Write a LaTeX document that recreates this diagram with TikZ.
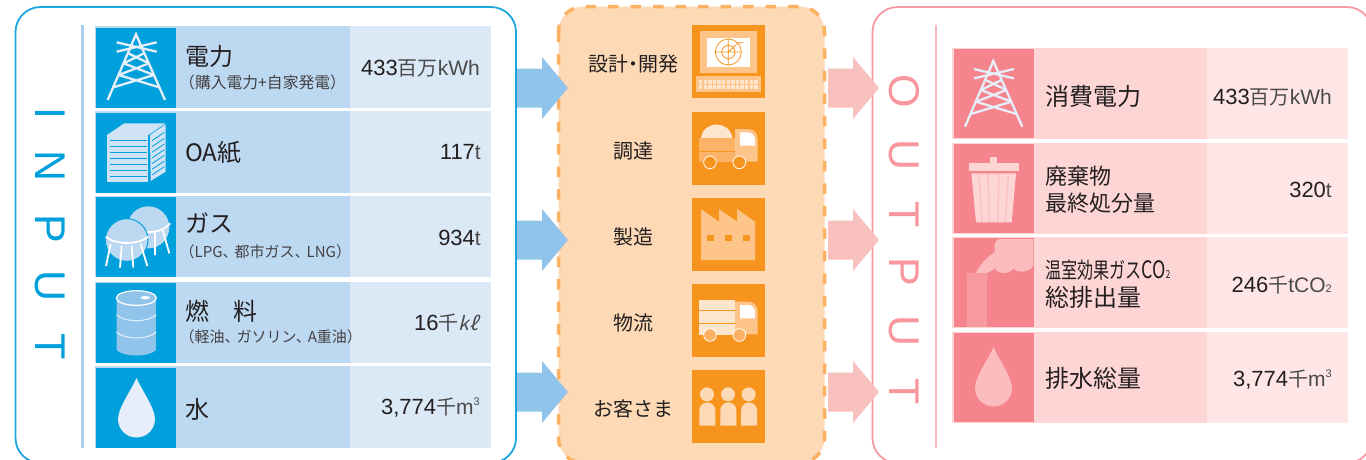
\documentclass[tikz,border=0pt]{standalone}
\usepackage{fontspec}
\setmainfont{Liberation Sans}
\newfontfamily\jp{Noto Sans CJK JP}
\newfontfamily\jpslant[FakeSlant=0.25]{Noto Sans CJK JP}
\definecolor{inkc}{HTML}{231F20}
\definecolor{unitc}{HTML}{4A4A4A}
\definecolor{bluemain}{HTML}{00A0DC}
\definecolor{bluepanel}{HTML}{1BA6DD}
\definecolor{bluebar}{HTML}{A9CDEC}
\definecolor{bluelabel}{HTML}{BDD8F1}
\definecolor{blueval}{HTML}{DBE8F6}
\definecolor{bluearrow}{HTML}{90C4EA}
\definecolor{bluelight}{HTML}{D0E3F6}
\definecolor{iconwhite}{HTML}{E6EFF9}
\definecolor{pinkmain}{HTML}{F6848C}
\definecolor{pinkpanel}{HTML}{F59AA2}
\definecolor{pinkbar}{HTML}{FBB8BC}
\definecolor{pinklabel}{HTML}{FDD5D5}
\definecolor{pinkval}{HTML}{FEE6E6}
\definecolor{pinkarrow}{HTML}{F9C0C0}
\definecolor{pinksoft}{HTML}{FBBCBD}
\definecolor{orangemain}{HTML}{F7941D}
\definecolor{orangebg}{HTML}{FDD9B5}
\definecolor{orangedash}{HTML}{FDB163}
\definecolor{orangemid}{HTML}{FDC58A}
\definecolor{orangelight}{HTML}{FEE5CD}
\newcommand{\unitjp}[1]{{\jp\fontsize{20}{20}\selectfont\color{unitc}#1}}
\newcommand{\unitla}[1]{{\fontsize{21}{21}\selectfont\color{unitc}#1}}
\newcommand{\kten}{、\hspace{-3pt}}
\tikzset{
  x=1pt,y=-1pt,
  lab/.style={anchor=base west,inner sep=0pt,text=inkc,font=\jp\fontsize{24}{24}\selectfont},
  labm/.style={anchor=base west,inner sep=0pt,text=inkc,font=\jp\fontsize{22}{22}\selectfont},
  subl/.style={anchor=base west,inner sep=0pt,text=inkc!85,font=\jp\fontsize{15}{15}\selectfont},
  val/.style={anchor=base east,inner sep=0pt,text=inkc,font=\fontsize{22}{22}\selectfont},
  proc/.style={anchor=base,inner sep=0pt,text=inkc,font=\jp\fontsize{20}{20}\selectfont},
  letterin/.style={rotate=-90,inner sep=0pt,text=bluemain,font=\fontsize{43}{43}\selectfont},
  letterout/.style={rotate=-90,inner sep=0pt,text=pinkmain!85!white,font=\fontsize{43}{43}\selectfont},
  zoomed/.style={scale=0.33333},
  towerline/.style={draw=iconwhite,line width=2.3pt},
}
\newcommand{\arrowshape}[3]{% x, tip y, colour
  \fill[#3] (#1,#2-19.5) -- (#1+25,#2-19.5) -- (#1+25,#2-31) -- (#1+51,#2) -- (#1+25,#2+31) -- (#1+25,#2+19.5) -- (#1,#2+19.5) -- cycle;}
\newcommand{\towericon}[2]{% shift of the zoom-coordinates origin
  \begin{scope}[shift={(#1,#2)},zoomed]
    \draw[towerline] (323,300) -- (408,103) -- (495,300);
    \draw[towerline] (350,127) -- (470,155) (350,155) -- (470,127);
    \draw[towerline] (385,160) -- (447,190) (432,160) -- (371,190);
    \draw[towerline] (371,190) -- (462,225) (447,190) -- (356,225);
    \draw[towerline] (356,225) -- (478,262) (462,225) -- (340,262);
  \end{scope}}
\newcommand{\dropicon}[3]{%
  \begin{scope}[shift={(#1,#2)}]
    \fill[#3] (136.5,378) .. controls (133,387) and (118,408) .. (118,419)
      .. controls (118,429) and (126,437.5) .. (136.5,437.5)
      .. controls (147,437.5) and (155,429) .. (155,419)
      .. controls (155,408) and (140,387) .. (136.5,378) -- cycle;
  \end{scope}}
\begin{document}
\begin{tikzpicture}
\path[use as bounding box,clip] (0,0) rectangle (1366,459);
\fill[white] (0,0) rectangle (1366,459);
% panels
\draw[bluepanel,line width=1.8pt,rounded corners=25pt] (15.5,7) rectangle (516,463);
\draw[pinkpanel,line width=1.8pt,rounded corners=25pt] (872.5,7) rectangle (1372,463);
\draw[orangedash,fill=orangebg,line width=3.5pt,dash pattern=on 10.5pt off 12pt,rounded corners=25pt] (558.5,6.5) rectangle (824.5,463);
% vertical bars
\fill[bluebar] (81,25) rectangle (84,448);
\fill[pinkbar] (934.5,25) rectangle (936.8,448);
% arrows
\arrowshape{517}{88}{bluearrow}
\arrowshape{517}{240}{bluearrow}
\arrowshape{517}{392}{bluearrow}
\arrowshape{828}{88}{pinkarrow}
\arrowshape{828}{240}{pinkarrow}
\arrowshape{828}{392}{pinkarrow}
% INPUT letters
\node[letterin] (i1) at (50.5,113.5) {I};
\node[letterin] (i2) at (50.5,166.5) {N};
\node[letterin] (i3) at (50.5,229) {P};
\node[letterin] (i4) at (50.5,286.5) {U};
\node[letterin] (i5) at (50.5,347) {T};
% OUTPUT letters
\node[letterout] (o1) at (904,91.5) {O};
\node[letterout] (o2) at (904,155) {U};
\node[letterout] (o3) at (904,215) {T};
\node[letterout] (o4) at (904,272) {P};
\node[letterout] (o5) at (904,331.5) {U};
\node[letterout] (o6) at (904,392) {T};
% left rows
\foreach \a/\b/\c in {26/28/108,111/113/193,196/197/277,281.5/283/363,366/368/448}{
  \fill[bluelabel] (95,\a) rectangle (350,\c);
  \fill[blueval] (350,\a) rectangle (491,\c);
  \fill[bluemain] (96,\b) rectangle (176,\c);
}
% right rows
\foreach \a/\b/\c/\d in {48/49/138/139,143/144/233/234,237/238/327/328,332/333/422/423}{
  \fill[pinklabel] (952,\a) rectangle (1207,\d);
  \fill[pinkval] (1207,\a) rectangle (1348,\d);
  \fill[pinkmain] (954,\b) rectangle (1034,\c);
}
% orange icon squares
\foreach \a in {25,112,198,284,370}{\fill[orangemain] (692,\a) rectangle (765,\a+73);}
% tower icons
\towericon{0}{0}
\towericon{857.3}{26.7}
% paper
\begin{scope}[zoomed]
  \fill[bluelight] (321,405) -- (373,370) -- (497,370) -- (445,405) -- cycle;
  \fill[bluelight] (321,405) rectangle (445,545);
  \fill[bluelight] (450,405) -- (497,373) -- (497,515) -- (452,543) -- cycle;
  \foreach \y in {422,438,456,475,492,510,528}{\draw[bluemain,line width=.8pt] (330,\y) -- (441,\y);}
  \foreach \y in {422,440,457,474,491,508,525}{\draw[bluemain,line width=.8pt] (456,\y) -- (493,\y-25);}
\end{scope}
% gas tanks
\begin{scope}[shift={(90,190)},zoomed]
  \fill[bluelabel] (175,112) circle (63);
  \draw[white,line width=1.8pt] (172,126) .. controls (195,127) and (220,122) .. (241,100);
  \draw[white,line width=1.8pt] (195,125) -- (195,195) (218,120) -- (238,190);
  \draw[bluemain,fill=bluelabel,line width=1pt] (110,150) circle (64);
  \draw[white,line width=1.8pt] (47,140) .. controls (75,165) and (145,165) .. (175,140);
  \draw[white,line width=1.8pt] (62,162) -- (48,228) (95,168) -- (90,233) (125,168) -- (130,233) (152,162) -- (172,228);
\end{scope}
% drum
\begin{scope}[zoomed,shift={(0,690)}]
  \fill[bluearrow] (350,204) -- (350,360) .. controls (370,382) and (448,382) .. (468,360) -- (468,204) -- cycle;
  \draw[white,line width=1.2pt,fill=bluearrow] (409,204) ellipse (60 and 22);
  \fill[white] (436,203) ellipse (14 and 5);
  \draw[iconwhite,line width=1pt] (349,254) .. controls (375,278) and (443,278) .. (469,254);
  \draw[iconwhite,line width=1pt] (349,306) .. controls (375,330) and (443,330) .. (469,306);
\end{scope}
% drops
\dropicon{0}{0}{iconwhite}
\dropicon{857}{-31}{pinksoft}
% trash
\begin{scope}[shift={(900,0)},zoomed]
  \fill[pinklabel] (207,489) rectangle (357,514);
  \fill[pinklabel] (270,471) rectangle (291,489);
  \fill[pinklabel] (214,520) -- (348,520) -- (335,667) -- (228,667) -- cycle;
  \draw[pinkarrow,line width=1.3pt] (237,520) -- (246,667) (264,520) -- (268,667) (297,520) -- (293,667) (325,520) -- (316,667);
\end{scope}
% smoke
\begin{scope}[shift={(950,235)},zoomed]
  \fill[pinksoft] (78,114) .. controls (90,85) and (115,65) .. (135,50) .. controls (130,30) and (135,12) .. (150,12)
    -- (250,12) -- (250,90) .. controls (245,110) and (205,118) .. (190,100) .. controls (180,118) and (145,120) .. (135,100)
    .. controls (125,108) and (118,112) .. (111,114) -- cycle;
  \fill[pinkmain!72!pinklabel] (51,114) rectangle (111,276);
\end{scope}
% computer
\begin{scope}[shift={(685,20)},zoomed]
  \fill[orangemid] (45,33) rectangle (216,159);
  \fill[white] (66,54) rectangle (195,141);
  \draw[orangemain,line width=.8pt] (130,96) circle (39) (130,96) circle (20);
  \draw[orangemain,line width=.8pt] (88,96) -- (172,96) (130,55) -- (130,137) (130,96) -- (160,68) -- (175,68);
  \fill[orangemid] (33,168) rectangle (228,216);
  \foreach \i in {0,...,12}{
    \fill[orangelight] (42+13.8*\i,180) rectangle (52+13.8*\i,192);
    \fill[orangelight] (42+13.8*\i,195) rectangle (52+13.8*\i,207);
  }
\end{scope}
% dump truck
\begin{scope}[shift={(500,0)},zoomed]
  \fill[orangelight] (603,414) .. controls (610,360) and (690,360) .. (697,414) -- cycle;
  \fill[orangemid,rounded corners=0pt] (705,387) -- (745,387) .. controls (762,387) and (773,400) .. (773,417) -- (773,485) -- (705,485) -- cycle;
  \fill[white] (720,397) -- (745,397) .. controls (757,397) and (765,408) .. (765,420) -- (765,437) -- (720,437) -- cycle;
  \fill[orangedash!90!orangemid] (597,414) rectangle (705,486);
  \draw[orangemain,line width=.8pt] (597,454) -- (705,454);
  \draw[white,fill=orangemain,line width=.8pt] (630,487) circle (19) (718,487) circle (19);
\end{scope}
% delivery truck
\begin{scope}[shift={(500,230)},zoomed]
  \fill[orangemid] (705,215) -- (745,215) .. controls (762,215) and (773,228) .. (773,245) -- (773,313) -- (705,313) -- cycle;
  \fill[white] (720,225) -- (745,225) .. controls (757,225) and (765,236) .. (765,248) -- (765,265) -- (720,265) -- cycle;
  \fill[orangelight] (597,210) rectangle (705,315);
  \draw[orangemain,line width=.8pt] (597,241) -- (705,241) (597,280) -- (705,280);
  \draw[white,fill=orangedash,line width=.8pt] (630,315) circle (19) (718,315) circle (19);
\end{scope}
% factory
\begin{scope}[shift={(500,0)},zoomed]
  \fill[orangemid] (603,627) -- (657,665) -- (657,627) -- (711,665) -- (711,627) -- (765,665) -- (765,780) -- (603,780) -- cycle;
  \foreach \x in {621,675,729}{\fill[orangemain] (\x,705) rectangle (\x+21,723);}
\end{scope}
% people
\begin{scope}[shift={(500,230)},zoomed]
  \foreach \x in {598,661,723}{
    \fill[orangebg] (\x+23,493) circle (21);
    \fill[orangebg] (\x,587) -- (\x,541) arc[start angle=180,end angle=360,radius=24] -- (\x+48,587) -- cycle;
  }
\end{scope}
% left labels
\node[lab] (t1) at (185,65.5) {電力};
\node[subl,font=\jp\fontsize{15.8}{15.8}\selectfont] (t1s) at (179,88.5) {（購入電力+自家発電）};
\node[lab] (t2) at (185,161) {OA紙};
\node[lab] (t3) at (185,232) {ガス};
\node[subl] (t3s) at (179.5,257.5) {（LPG\kten 都市ガス\kten LNG）};
\node[lab] (t4) at (185,320) {燃　料};
\node[subl] (t4s) at (179.5,342) {（軽油\kten ガソリン\kten A重油）};
\node[lab] (t5) at (185,418) {水};
% left values
\node[val] (v1) at (480,75) {433\unitjp{百万}\unitla{kWh}};
\node[val] (v2) at (481,159) {117\unitla{t}};
\node[val] (v3) at (481,245) {934\unitla{t}};
\node[val] (v4) at (478,330) {16\unitjp{千}{\jpslant\fontsize{19}{19}\selectfont\color{unitc}kℓ}};
\node[val] (v5) at (480,414) {3,774\unitjp{千}\unitla{m}\raisebox{8.5pt}{\fontsize{11}{11}\selectfont\color{unitc}3}};
% process labels
\node[proc] (p1) at (633,71) {設計\hspace{-5pt}・\hspace{-5pt}開発};
\node[proc] (p2) at (633,158) {調達};
\node[proc] (p3) at (633,244.5) {製造};
\node[proc] (p4) at (633,330.5) {物流};
\node[proc] (p5) at (633,416) {お客さま};
% right labels
\node[lab] (r1) at (1045,105) {消費電力};
\node[labm] (r2a) at (1045,184) {廃棄物};
\node[labm] (r2b) at (1045,211) {最終処分量};
\node[labm] (r3a) at (1045,278) {\scalebox{0.73}[1]{温室効果ガス}\scalebox{0.75}[1]{\fontsize{24}{24}\selectfont CO}\scalebox{0.75}[1]{\fontsize{11}{11}\selectfont 2}};
\node[lab] (r3b) at (1045,306) {総排出量};
\node[lab] (r4) at (1045,387) {排水総量};
% right values
\node[val] (w1) at (1332,104) {433\unitjp{百万}\unitla{kWh}};
\node[val] (w2) at (1332,197) {320\unitla{t}};
\node[val] (w3) at (1332,292) {246\unitjp{千}\unitla{tCO}{\fontsize{11}{11}\selectfont\color{unitc}2}};
\node[val] (w4) at (1332,386) {3,774\unitjp{千}\unitla{m}\raisebox{8.5pt}{\fontsize{11}{11}\selectfont\color{unitc}3}};
\end{tikzpicture}
\end{document}
